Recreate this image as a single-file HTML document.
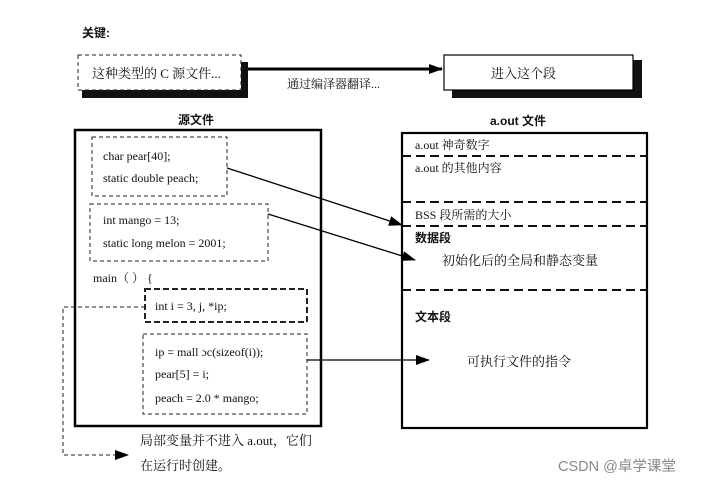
<!DOCTYPE html>
<html><head><meta charset="utf-8"><style>
body{margin:0;background:#fff}
svg{display:block}
text{font-family:"Liberation Serif","Noto Serif CJK SC",serif;font-size:12px;fill:#111}
.b{font-family:"Liberation Sans","Noto Sans CJK SC",sans-serif;font-weight:bold}
</style></head><body>
<svg width="723" height="486" viewBox="0 0 723 486">
<defs><marker id="ah2" markerWidth="14" markerHeight="10" refX="13" refY="5" orient="auto" markerUnits="userSpaceOnUse"><path d="M0,0L14,5L0,10z" fill="#000"/></marker></defs>
<text x="82" y="37" class="b">关键:</text>
<rect x="82" y="90" width="166" height="8" fill="#111"/>
<rect x="240" y="62" width="8" height="36" fill="#111"/>
<rect x="78" y="55" width="163" height="35" fill="#fff" stroke="#222" stroke-dasharray="4,3"/>
<text x="92" y="78" style="font-size:13px">这种类型的 C 源文件...</text>
<line x1="248" y1="69" x2="442" y2="69" stroke="#000" stroke-width="3" marker-end="url(#ah2)"/>
<text x="287" y="88">通过编泽器翻译...</text>
<rect x="452" y="88" width="190" height="10" fill="#111"/>
<rect x="632" y="60" width="10" height="38" fill="#111"/>
<rect x="444" y="55" width="189" height="35" fill="#fff" stroke="#000" stroke-width="1.2"/>
<text x="491" y="78" style="font-size:13px">进入这个段</text>
<text x="178" y="124" class="b">源文件</text>
<rect x="75" y="130" width="246" height="296" fill="none" stroke="#000" stroke-width="2.5"/>
<rect x="92" y="137" width="135" height="59" fill="none" stroke="#222" stroke-dasharray="4,3"/>
<text x="103" y="160">char pear[40];</text>
<text x="103" y="182">static double peach;</text>
<rect x="90" y="204" width="178" height="57" fill="none" stroke="#222" stroke-dasharray="4,3"/>
<text x="103" y="224">int mango = 13;</text>
<text x="103" y="247">static long melon = 2001;</text>
<text x="93" y="282">main（ ）  {</text>
<rect x="145" y="289" width="162" height="33" fill="none" stroke="#222" stroke-width="2" stroke-dasharray="6,3"/>
<text x="155" y="310">int i = 3, j, *ip;</text>
<rect x="143" y="334" width="164" height="80" fill="none" stroke="#222" stroke-dasharray="4,3"/>
<text x="155" y="356">ip = mall ɔc(sizeof(i));</text>
<text x="155" y="378">pear[5] = i;</text>
<text x="155" y="402">peach = 2.0 * mango;</text>
<polyline points="145,307 63,307 63,455 128,455" fill="none" stroke="#222" stroke-dasharray="4,3" marker-end="url(#ah2)"/>
<text x="140" y="445" style="font-size:13px">局部变量并不进入 a.out，它们</text>
<text x="140" y="470" style="font-size:13px">在运行时创建。</text>
<text x="490" y="125" class="b">a.out 文件</text>
<rect x="402" y="133" width="245" height="295" fill="none" stroke="#000" stroke-width="2.2"/>
<g stroke="#111" stroke-width="2" stroke-dasharray="9,5">
<line x1="402" y1="156" x2="647" y2="156"/><line x1="402" y1="202" x2="647" y2="202"/>
<line x1="402" y1="226" x2="647" y2="226"/><line x1="402" y1="290" x2="647" y2="290"/></g>
<text x="415" y="149">a.out 神奇数字</text>
<text x="415" y="172">a.out 的其他内容</text>
<text x="415" y="219">BSS 段所需的大小</text>
<text x="415" y="242" class="b">数据段</text>
<text x="442" y="265" style="font-size:13px">初始化后的全局和静态变量</text>
<text x="415" y="321" class="b">文本段</text>
<text x="467" y="366" style="font-size:13px">可执行文件的指令</text>
<g stroke="#000" stroke-width="1.3">
<line x1="227" y1="168" x2="402" y2="225" marker-end="url(#ah2)"/>
<line x1="268" y1="214" x2="415" y2="260" marker-end="url(#ah2)"/>
<line x1="307" y1="360" x2="429" y2="360" marker-end="url(#ah2)"/></g>
<text x="558" y="471" style="font-family:'Liberation Sans','Noto Sans CJK SC',sans-serif;font-size:14.5px;fill:#888">CSDN @卓学课堂</text>
</svg>
</body></html>
